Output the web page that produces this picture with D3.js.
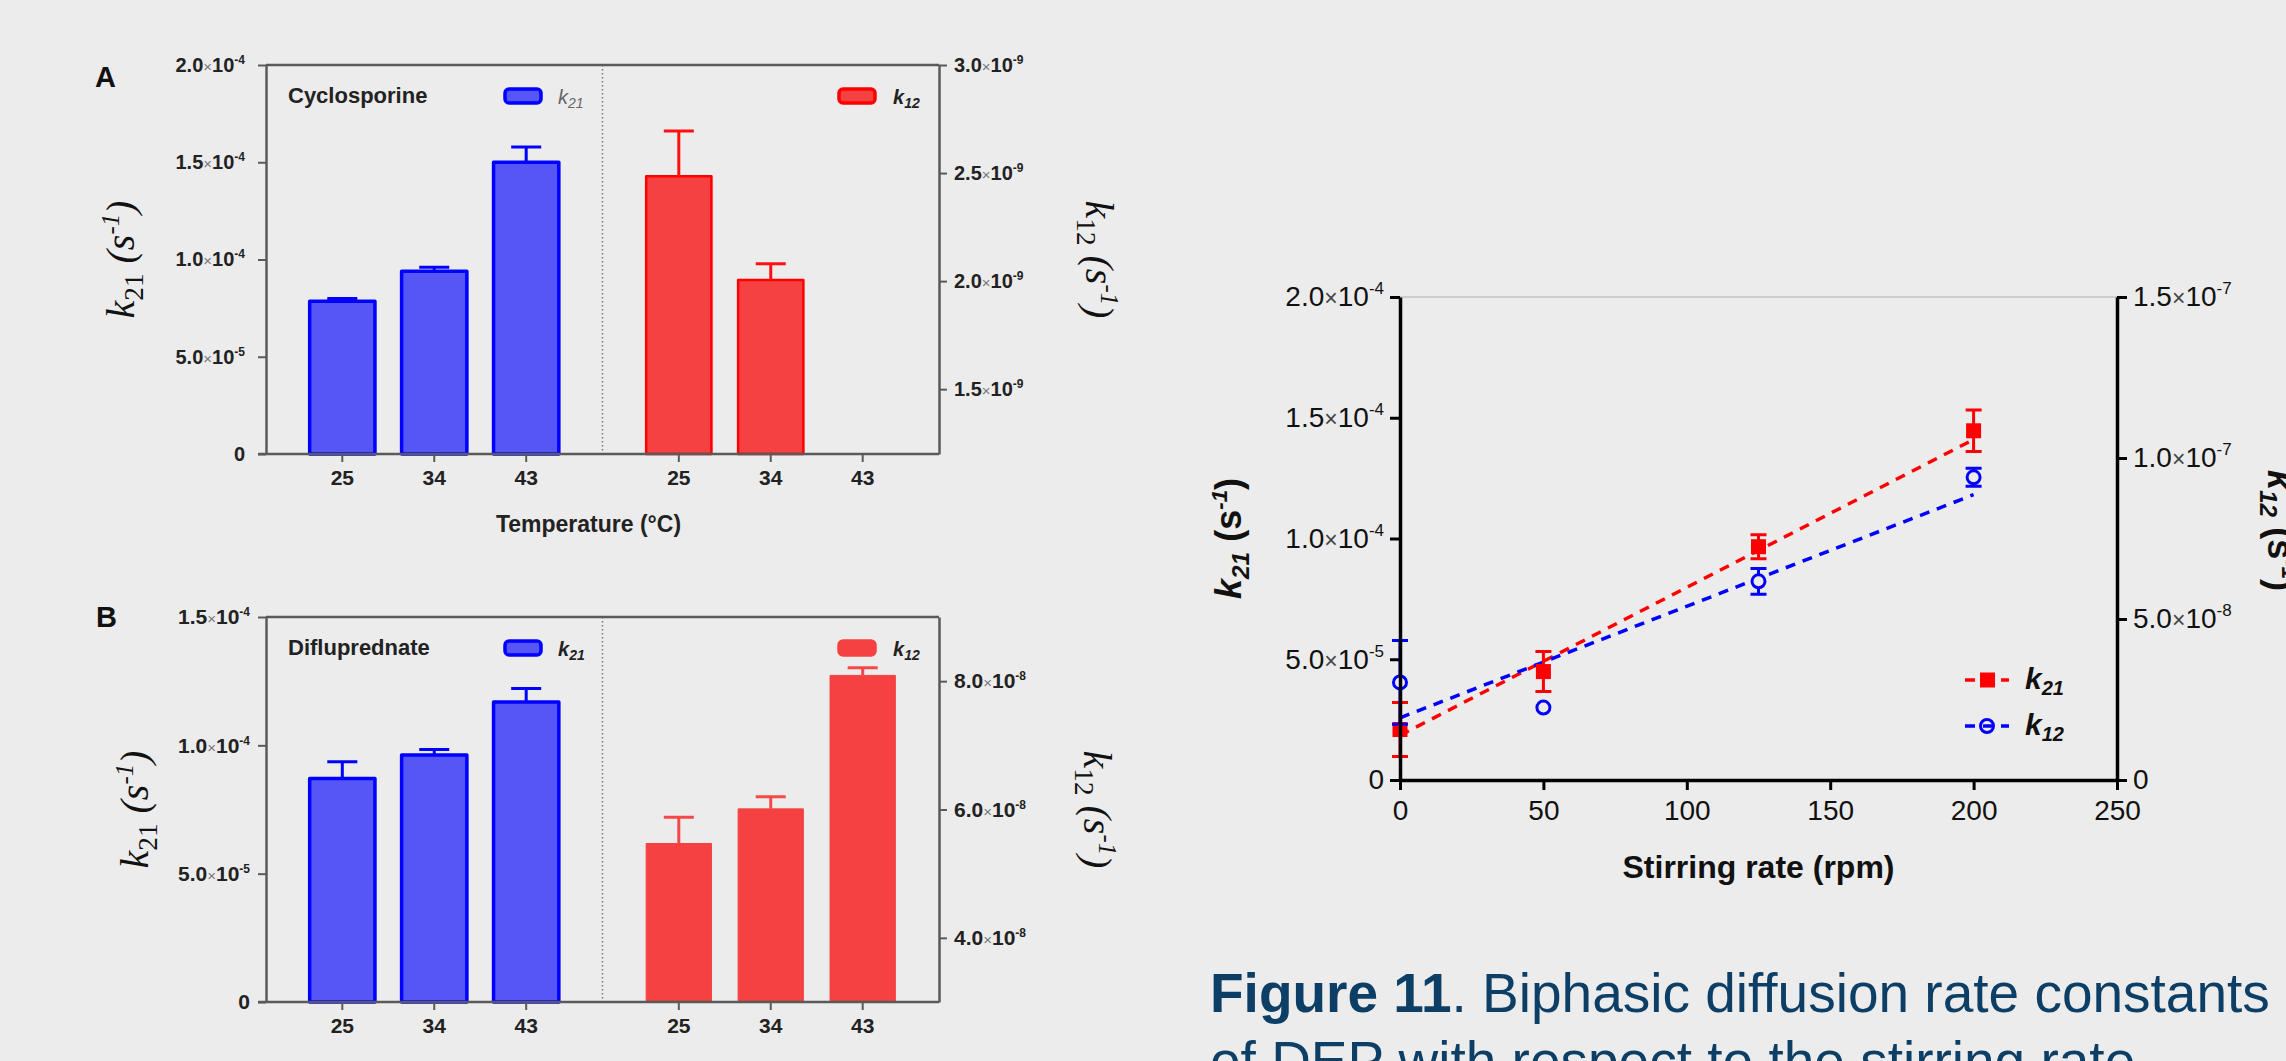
<!DOCTYPE html>
<html>
<head>
<meta charset="utf-8">
<script src="https://cdn.jsdelivr.net/npm/d3@7"></script>
<style>
  body { margin: 0; background: #ececec; }
  svg { display: block; }
</style>
</head>
<body>
<div id="chart"></div>
<script>
// ---------- data ----------
const temps = ["25", "34", "43"];

// panel A: cyclosporine
const cycloK21 = [7.85e-5, 9.4e-5, 15.0e-5];
const cycloK21Err = [0.15e-5, 0.2e-5, 0.78e-5];
const cycloK12 = [2.485e-9, 2.005e-9, null];
const cycloK12Err = [0.21e-9, 0.075e-9, null];

// panel B: difluprednate
const difluK21 = [8.71e-5, 9.62e-5, 11.69e-5];
const difluK21Err = [0.65e-5, 0.22e-5, 0.52e-5];
const difluK12 = [5.47e-8, 6.01e-8, 8.09e-8];
const difluK12Err = [0.41e-8, 0.19e-8, 0.12e-8];

// stirring rate plot
const rpm = [0, 50, 125, 200];
const stirK21 = [2.09e-5, 4.49e-5, 9.66e-5, 14.46e-5];
const stirK21Err = [1.12e-5, 0.83e-5, 0.5e-5, 0.86e-5];
const stirK12 = [3.03e-8, 2.25e-8, 6.17e-8, 9.40e-8];
const stirK12Err = [1.3e-8, 0, 0.4e-8, 0.28e-8];
const fitK21 = [[0, 1.85e-5], [200, 14.1e-5]];
const fitK12 = [[0, 1.93e-8], [200, 8.86e-8]];

// tick values
const ticksA_left = [0, 5e-5, 1e-4, 1.5e-4, 2e-4];
const ticksA_right = [1.5e-9, 2e-9, 2.5e-9, 3e-9];
const ticksB_left = [0, 5e-5, 1e-4, 1.5e-4];
const ticksB_right = [4e-8, 6e-8, 8e-8];
const ticksS_x = [0, 50, 100, 150, 200, 250];
const ticksS_left = [0, 5e-5, 1e-4, 1.5e-4, 2e-4];
const ticksS_right = [0, 5e-8, 1e-7, 1.5e-7];

// ---------- setup ----------
const W = 2286, H = 1061;
const SANS = "'Liberation Sans', Arial, sans-serif";
const SERIF = "'Liberation Serif', 'Times New Roman', serif";
const BLUE_FILL = "#5656f6", BLUE_LINE = "#0000ff";
const RED_FILL = "#f54141";

const svg = d3.select("#chart").append("svg")
    .attr("width", W).attr("height", H)
    .style("background", "#ececec");

// write a "1.5×10^-4" label into a text element
function sciLabel(text, v, o) {
    text.text(null);
    if (v === 0) { text.append("tspan").text("0"); return; }
    const parts = d3.format(".1e")(v).split("e");
    text.append("tspan").text(parts[0]);
    text.append("tspan").attr("font-weight", "normal").attr("fill", o.timesColor)
        .attr("font-size", o.timesSize).text("×");
    text.append("tspan").text("10");
    text.append("tspan").attr("dy", -o.supShift).attr("font-size", o.supSize)
        .text(String(+parts[1]));
}

// k21 (s-1) style label
function rateLabel(g, sub, o) {
    const t = g.append("text")
        .attr("text-anchor", "middle")
        .attr("font-family", o.family)
        .attr("font-size", o.size)
        .attr("font-weight", o.weight)
        .attr("fill", "#111");
    t.append("tspan").attr("font-style", "italic").text("k");
    t.append("tspan").attr("font-style", o.subItalic ? "italic" : "normal")
        .attr("font-size", o.size * 0.68).attr("dy", o.size * 0.22).text(sub);
    t.append("tspan").attr("dy", -o.size * 0.22).attr("font-style", o.parenItalic ? "italic" : "normal").text(" (");
    t.append("tspan").attr("font-style", o.parenItalic ? "italic" : "normal").text("s");
    t.append("tspan").attr("font-style", "italic").attr("font-size", o.size * 0.62)
        .attr("dy", -o.size * 0.38).text("-1");
    t.append("tspan").attr("dy", o.size * 0.38).attr("font-style", o.parenItalic ? "italic" : "normal").text(")");
    return t;
}

// ---------- bar panels (A, B) ----------
function drawPanel(cfg) {
    const g = svg.append("g");
    const left = cfg.left, right = cfg.right, top = cfg.top, bottom = cfg.bottom;
    const mid = left + (right - left) * 0.5;

    const xL = d3.scaleBand().domain(temps).range([left, mid]).paddingInner(0.29).paddingOuter(0.475);
    const xR = d3.scaleBand().domain(temps).range([mid, right]).paddingInner(0.29).paddingOuter(0.475);
    const yL = d3.scaleLinear().domain(cfg.leftDomain).range([bottom, top]);
    const yR = d3.scaleLinear().domain(cfg.rightDomain).range([bottom, top]);

    const axisColor = "#5a5a5a";
    const tickOpts = { timesColor: "#777", timesSize: 15, supSize: 12, supShift: 8 };

    // divider
    g.append("line")
        .attr("x1", mid).attr("x2", mid).attr("y1", top).attr("y2", bottom)
        .attr("stroke", "#777").attr("stroke-width", 1.5).attr("stroke-dasharray", "1.5,2.5");

    // blue bars
    const blue = temps.map((t, i) => ({ t: t, v: cfg.k21[i], e: cfg.k21Err[i] }));
    g.selectAll(".bbar").data(blue).join("rect")
        .attr("x", d => xL(d.t)).attr("width", xL.bandwidth())
        .attr("y", d => yL(d.v)).attr("height", d => bottom - yL(d.v))
        .attr("fill", BLUE_FILL).attr("stroke", BLUE_LINE).attr("stroke-width", 3.5)
        .attr("stroke-linejoin", "round");
    const capL = xL.bandwidth() * 0.46;
    g.selectAll(".berr").data(blue).join("path")
        .attr("d", d => {
            const cx = xL(d.t) + xL.bandwidth() / 2;
            return `M${cx},${yL(d.v)}V${yL(d.v + d.e)}M${cx - capL / 2},${yL(d.v + d.e)}H${cx + capL / 2}`;
        })
        .attr("fill", "none").attr("stroke", BLUE_LINE).attr("stroke-width", 3);

    // red bars
    const red = temps.map((t, i) => ({ t: t, v: cfg.k12[i], e: cfg.k12Err[i] })).filter(d => d.v != null);
    g.selectAll(".rbar").data(red).join("rect")
        .attr("x", d => xR(d.t)).attr("width", xR.bandwidth())
        .attr("y", d => yR(d.v)).attr("height", d => bottom - yR(d.v))
        .attr("fill", RED_FILL).attr("stroke", cfg.redStroke).attr("stroke-width", cfg.redStrokeW)
        .attr("stroke-linejoin", "round");
    g.selectAll(".rerr").data(red).join("path")
        .attr("d", d => {
            const cx = xR(d.t) + xR.bandwidth() / 2;
            return `M${cx},${yR(d.v)}V${yR(d.v + d.e)}M${cx - capL / 2},${yR(d.v + d.e)}H${cx + capL / 2}`;
        })
        .attr("fill", "none").attr("stroke", cfg.errRed).attr("stroke-width", 3);

    // frame: top line and bottom axis line
    g.append("line").attr("x1", left).attr("x2", right).attr("y1", top).attr("y2", top)
        .attr("stroke", axisColor).attr("stroke-width", 2.5);
    g.append("line").attr("x1", left - 8).attr("x2", right).attr("y1", bottom).attr("y2", bottom)
        .attr("stroke", axisColor).attr("stroke-width", 2.5);

    // left axis
    const gl = g.append("g").attr("transform", `translate(${left},0)`)
        .call(d3.axisLeft(yL).tickValues(cfg.leftTicks).tickSize(8).tickSizeOuter(0).tickPadding(cfg.leftPad));
    gl.selectAll(".tick text").each(function (d) { sciLabel(d3.select(this), d, tickOpts); });

    // right axis
    const gr = g.append("g").attr("transform", `translate(${right},0)`)
        .call(d3.axisRight(yR).tickValues(cfg.rightTicks).tickSize(8).tickSizeOuter(0).tickPadding(7));
    gr.selectAll(".tick text").each(function (d) { sciLabel(d3.select(this), d, tickOpts); });

    // bottom axes
    const gb1 = g.append("g").attr("transform", `translate(0,${bottom})`)
        .call(d3.axisBottom(xL).tickSize(8).tickSizeOuter(0).tickPadding(8));
    const gb2 = g.append("g").attr("transform", `translate(0,${bottom})`)
        .call(d3.axisBottom(xR).tickSize(8).tickSizeOuter(0).tickPadding(8));

    [gl, gr, gb1, gb2].forEach(a => {
        a.attr("font-family", SANS).attr("font-size", cfg.tickSize).attr("font-weight", "bold");
        a.selectAll(".tick text").attr("fill", "#222");
        a.selectAll(".tick line").attr("stroke", axisColor).attr("stroke-width", 2);
        a.select(".domain").attr("stroke", axisColor).attr("stroke-width", 2.5);
    });
    gb1.select(".domain").remove();
    gb2.select(".domain").remove();
    gb1.selectAll(".tick text").attr("font-size", 21);
    gb2.selectAll(".tick text").attr("font-size", 21);

    // panel letter
    g.append("text").attr("x", cfg.letterX).attr("y", cfg.letterY)
        .attr("font-family", SANS).attr("font-weight", "bold").attr("font-size", 29)
        .attr("fill", "#111").text(cfg.letter);

    // legend
    g.append("text").attr("x", left + 22).attr("y", top + 38)
        .attr("font-family", SANS).attr("font-weight", "bold").attr("font-size", 22)
        .attr("fill", "#222").text(cfg.drug);
    g.append("rect").attr("x", left + 239).attr("y", top + 24).attr("width", 36).attr("height", 14)
        .attr("rx", 4).attr("fill", BLUE_FILL).attr("stroke", BLUE_LINE).attr("stroke-width", 3.5);
    const l1 = g.append("text").attr("x", left + 292).attr("y", top + 39)
        .attr("font-family", SANS).attr("font-size", 20).attr("font-style", "italic")
        .attr("font-weight", cfg.k21LegendBold ? "bold" : "normal")
        .attr("fill", cfg.k21LegendColor);
    l1.append("tspan").text("k");
    l1.append("tspan").attr("font-size", 14).attr("dy", 4).text("21");
    g.append("rect").attr("x", left + 573).attr("y", top + 24).attr("width", 36).attr("height", 14)
        .attr("rx", 4).attr("fill", RED_FILL).attr("stroke", cfg.redStroke).attr("stroke-width", 3.5);
    const l2 = g.append("text").attr("x", left + 627).attr("y", top + 39)
        .attr("font-family", SANS).attr("font-size", 20).attr("font-style", "italic")
        .attr("font-weight", "bold").attr("fill", "#222");
    l2.append("tspan").text("k");
    l2.append("tspan").attr("font-size", 14).attr("dy", 4).text("12");

    // axis titles (serif)
    const mY = (top + bottom) / 2;
    const serifOpts = { family: SERIF, size: 40, weight: "normal", subItalic: false, parenItalic: true };
    rateLabel(g.append("g").attr("transform", `translate(${cfg.leftLabelX},${mY}) rotate(-90)`), "21", serifOpts)
        .attr("dy", "0.35em");
    rateLabel(g.append("g").attr("transform", `translate(${cfg.rightLabelX},${mY}) rotate(90)`), "12", serifOpts)
        .attr("dy", "0.35em");

    if (cfg.xTitle) {
        g.append("text").attr("x", mid - 14).attr("y", bottom + 78).attr("text-anchor", "middle")
            .attr("font-family", SANS).attr("font-weight", "bold").attr("font-size", 23)
            .attr("fill", "#222").text(cfg.xTitle);
    }
}

drawPanel({
    left: 266, right: 939, top: 65, bottom: 454,
    leftDomain: [0, 2e-4], rightDomain: [1.2e-9, 3e-9],
    leftTicks: ticksA_left, rightTicks: ticksA_right,
    k21: cycloK21, k21Err: cycloK21Err, k12: cycloK12, k12Err: cycloK12Err,
    redStroke: "#ff0000", redStrokeW: 2.5, errRed: "#ff1010",
    letter: "A", letterX: 95, letterY: 87,
    drug: "Cyclosporine", k21LegendBold: false, k21LegendColor: "#666",
    leftLabelX: 120, rightLabelX: 1100, leftPad: 13, tickSize: 20,
    xTitle: "Temperature (°C)"
});

drawPanel({
    left: 266, right: 939, top: 617, bottom: 1002,
    leftDomain: [0, 1.5e-4], rightDomain: [3e-8, 9e-8],
    leftTicks: ticksB_left, rightTicks: ticksB_right,
    k21: difluK21, k21Err: difluK21Err, k12: difluK12, k12Err: difluK12Err,
    redStroke: "#f54141", redStrokeW: 1, errRed: "#f54848",
    letter: "B", letterX: 96, letterY: 627,
    drug: "Difluprednate", k21LegendBold: true, k21LegendColor: "#222",
    leftLabelX: 134, rightLabelX: 1098, leftPad: 8, tickSize: 21,
    xTitle: null
});

// ---------- stirring rate plot ----------
const sL = 1400, sR = 2117, sT = 297, sB = 780;
const sx = d3.scaleLinear().domain([0, 250]).range([sL, sR]);
const syL = d3.scaleLinear().domain([0, 2e-4]).range([sB, sT]);
const syR = d3.scaleLinear().domain([0, 1.5e-7]).range([sB, sT]);
const RED = "#ff0000", BLU = "#0000ff";
const gs = svg.append("g");

// top border
gs.append("line").attr("x1", sL).attr("x2", sR).attr("y1", sT).attr("y2", sT)
    .attr("stroke", "#c4c4c4").attr("stroke-width", 1.5);

// fit lines
gs.append("path").datum(fitK21)
    .attr("d", d3.line().x(d => sx(d[0])).y(d => syL(d[1])))
    .attr("fill", "none").attr("stroke", RED).attr("stroke-width", 3.5).attr("stroke-dasharray", "10,8");
gs.append("path").datum(fitK12)
    .attr("d", d3.line().x(d => sx(d[0])).y(d => syR(d[1])))
    .attr("fill", "none").attr("stroke", BLU).attr("stroke-width", 3.5).attr("stroke-dasharray", "10,8");

const cap = 8;
const redPts = rpm.map((r, i) => ({ r: r, v: stirK21[i], e: stirK21Err[i] }));
const bluPts = rpm.map((r, i) => ({ r: r, v: stirK12[i], e: stirK12Err[i] }));

function errPath(d, y) {
    const x = sx(d.r), y1 = y(d.v + d.e), y2 = y(d.v - d.e);
    return `M${x},${y1}V${y2}M${x - cap},${y1}H${x + cap}M${x - cap},${y2}H${x + cap}`;
}

gs.selectAll(".rerr").data(redPts.filter(d => d.e > 0)).join("path")
    .attr("d", d => errPath(d, syL)).attr("fill", "none").attr("stroke", RED).attr("stroke-width", 3);
gs.selectAll(".rpt").data(redPts).join("rect")
    .attr("x", d => sx(d.r) - 7.5).attr("y", d => syL(d.v) - 7.5)
    .attr("width", 15).attr("height", 15).attr("fill", RED);

gs.selectAll(".berr").data(bluPts.filter(d => d.e > 0)).join("path")
    .attr("d", d => errPath(d, syR)).attr("fill", "none").attr("stroke", BLU).attr("stroke-width", 3);
gs.selectAll(".bpt").data(bluPts).join("circle")
    .attr("cx", d => sx(d.r)).attr("cy", d => syR(d.v)).attr("r", 6.5)
    .attr("fill", "#ececec").attr("stroke", BLU).attr("stroke-width", 3);

// axes
const sTick = { timesColor: "#444", timesSize: 23, supSize: 17, supShift: 12 };
const ax = gs.append("g").attr("transform", `translate(0,${sB})`)
    .call(d3.axisBottom(sx).tickValues(ticksS_x).tickSize(10).tickSizeOuter(0).tickPadding(10));
const ayl = gs.append("g").attr("transform", `translate(${sL},0)`)
    .call(d3.axisLeft(syL).tickValues(ticksS_left).tickSize(10).tickSizeOuter(0).tickPadding(6));
ayl.selectAll(".tick text").each(function (d) { sciLabel(d3.select(this), d, sTick); });
const ayr = gs.append("g").attr("transform", `translate(${sR},0)`)
    .call(d3.axisRight(syR).tickValues(ticksS_right).tickSize(10).tickSizeOuter(0).tickPadding(6));
ayr.selectAll(".tick text").each(function (d) { sciLabel(d3.select(this), d, sTick); });

[ax, ayl, ayr].forEach(a => {
    a.attr("font-family", SANS).attr("font-size", 28);
    a.selectAll(".tick text").attr("fill", "#111");
    a.selectAll(".tick line").attr("stroke", "#000").attr("stroke-width", 3);
    a.select(".domain").attr("stroke", "#000").attr("stroke-width", 3.5);
});

gs.append("text").attr("x", (sL + sR) / 2).attr("y", sB + 98).attr("text-anchor", "middle")
    .attr("font-family", SANS).attr("font-weight", "bold").attr("font-size", 32)
    .attr("fill", "#111").text("Stirring rate (rpm)");

const sansOpts = { family: SANS, size: 36, weight: "bold", subItalic: true, parenItalic: false };
rateLabel(gs.append("g").attr("transform", `translate(1228,${(sT + sB) / 2}) rotate(-90)`), "21", sansOpts)
    .attr("dy", "0.35em");
rateLabel(gs.append("g").attr("transform", `translate(2281,${(sT + sB) / 2 - 8}) rotate(90)`), "12", sansOpts)
    .attr("dy", "0.35em");

// legend
const legend = [
    { name: "21", color: RED, y: 680, shape: "square" },
    { name: "12", color: BLU, y: 726, shape: "circle" }
];
legend.forEach(l => {
    gs.append("line").attr("x1", 1965).attr("x2", 2009).attr("y1", l.y).attr("y2", l.y)
        .attr("stroke", l.color).attr("stroke-width", 3.5).attr("stroke-dasharray", "10,8");
    if (l.shape === "square") {
        gs.append("rect").attr("x", 1980).attr("y", l.y - 7.5).attr("width", 15).attr("height", 15).attr("fill", l.color);
    } else {
        gs.append("circle").attr("cx", 1987).attr("cy", l.y).attr("r", 6.5)
            .attr("fill", "none").attr("stroke", l.color).attr("stroke-width", 3);
    }
    const t = gs.append("text").attr("x", 2025).attr("y", l.y + 9)
        .attr("font-family", SANS).attr("font-weight", "bold").attr("font-style", "italic")
        .attr("font-size", 30).attr("fill", "#111");
    t.append("tspan").text("k");
    t.append("tspan").attr("font-size", 20).attr("dy", 6).text(l.name);
});

// ---------- caption ----------
const cap1 = svg.append("text").attr("x", 1210).attr("y", 1012)
    .attr("font-family", SANS).attr("font-size", 55).attr("fill", "#0d3f66");
cap1.append("tspan").attr("font-weight", "bold").text("Figure 11");
cap1.append("tspan").text(". Biphasic diffusion rate constants");
svg.append("text").attr("x", 1210).attr("y", 1080)
    .attr("font-family", SANS).attr("font-size", 55).attr("fill", "#0d3f66")
    .text("of DEP with respect to the stirring rate");
</script>
</body>
</html>
